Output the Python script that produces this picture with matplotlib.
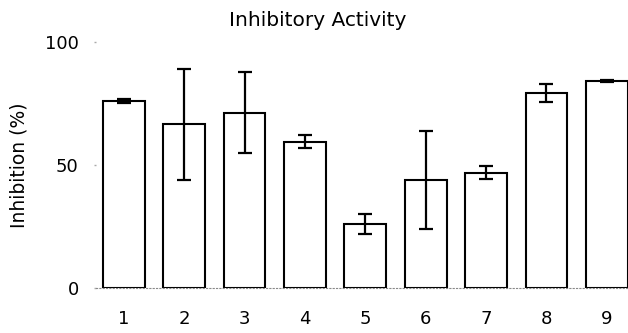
import matplotlib.pyplot as plt

plt.rcParams["font.family"] = ["DejaVu Sans"]

samples = ["1", "2", "3", "4", "5", "6", "7", "8", "9"]
inhibition = [76.0, 66.5, 71.3, 59.5, 26.0, 43.8, 46.9, 79.2, 84.3]
error = [0.8, 22.5, 16.5, 2.6, 4.1, 20.0, 2.5, 3.7, 0.4]

fig = plt.figure(figsize=(6.28, 3.33), dpi=100)
ax = fig.add_axes([96 / 628, 45 / 333, 532 / 628, 246 / 333])

x = list(range(1, len(samples) + 1))
ax.bar(x, inhibition, width=0.69, color="white", edgecolor="black",
       linewidth=1.5, zorder=2)
ax.errorbar(x, inhibition, yerr=error, fmt="none", ecolor="black",
            elinewidth=1.6, capsize=5.2, capthick=1.6, zorder=3)

ax.set_xlim(0.54, 9.35)
ax.set_ylim(0, 100)
ax.set_yticks([0, 50, 100])
ax.set_xticks(x)
ax.set_xticklabels(samples)

# Only a faint dotted baseline, no frame
for side in ["top", "right", "left"]:
    ax.spines[side].set_visible(False)
ax.spines["bottom"].set_linestyle((0, (1, 2)))
ax.spines["bottom"].set_color("#888888")
ax.spines["bottom"].set_linewidth(0.8)

ax.tick_params(axis="y", length=1.5, width=1, color="#aaaaaa", pad=11,
               labelsize=13)
ax.tick_params(axis="x", length=0, pad=16, labelsize=13)

ax.set_ylabel("Inhibition (%)", fontsize=13.5, labelpad=12)
fig.text(318 / 628, 1 - 21 / 333, "Inhibitory Activity", ha="center",
         va="center", fontsize=14.5)

fig.savefig("out.png", dpi=100)
